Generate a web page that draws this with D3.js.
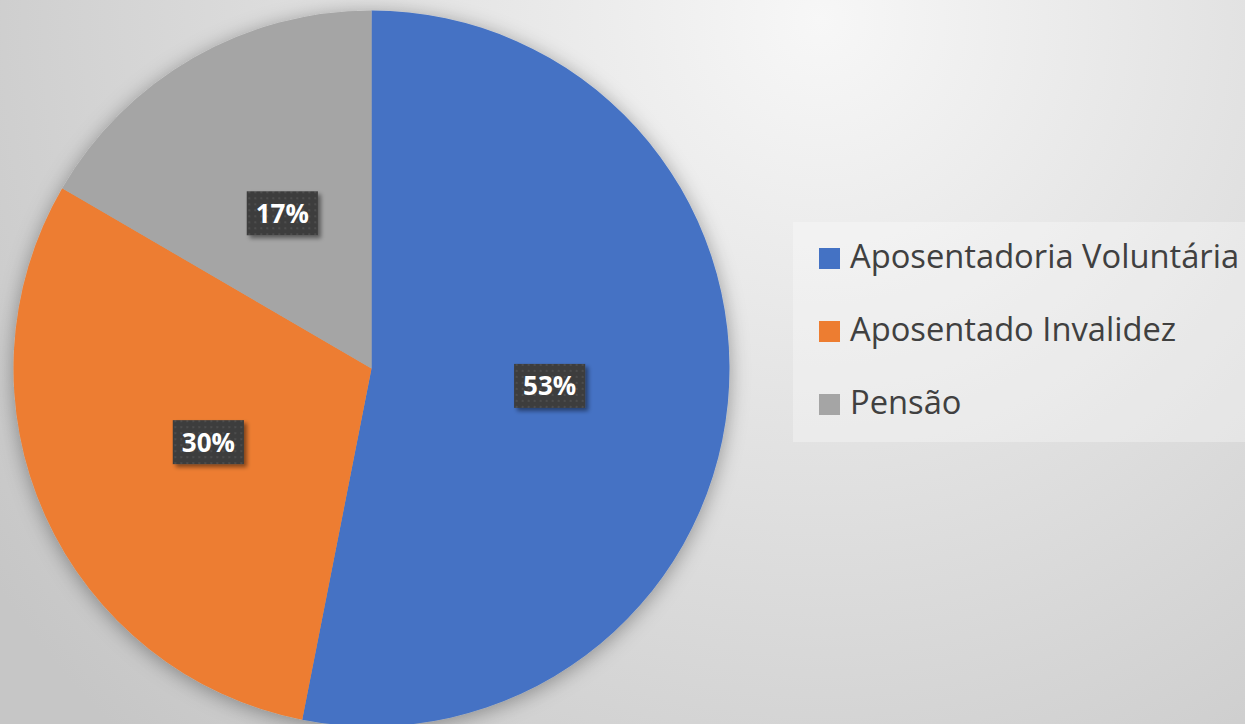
<!DOCTYPE html>
<html>
<head>
<meta charset="utf-8">
<script src="https://cdn.jsdelivr.net/npm/d3@7"></script>
<style>
  body { margin: 0; overflow: hidden; }
  svg { display: block; }
</style>
</head>
<body>
<svg id="chart" width="1245" height="724"></svg>
<script>
// data (slice angles), labels show rounded %
var categories = ["Aposentadoria Voluntária", "Aposentado Invalidez", "Pensão"];
var values = [53.1, 30.3, 16.6];
var colors = ["#4472C4", "#ED7D31", "#A5A5A5"];

var svg = d3.select("#chart"),
    width = +svg.attr("width"),
    height = +svg.attr("height");

var defs = svg.append("defs");

// background gradient, light top right to grey bottom
var bg = defs.append("radialGradient")
    .attr("id", "bg")
    .attr("gradientUnits", "userSpaceOnUse")
    .attr("cx", 820).attr("cy", 20).attr("r", 1000);
bg.append("stop").attr("offset", "0%").attr("stop-color", "#f7f7f7");
bg.append("stop").attr("offset", "100%").attr("stop-color", "#c6c6c6");

var shadow = defs.append("filter").attr("id", "pieShadow")
    .attr("x", "-20%").attr("y", "-20%").attr("width", "140%").attr("height", "140%");
shadow.append("feDropShadow")
    .attr("dx", 0).attr("dy", 3).attr("stdDeviation", 10)
    .attr("flood-color", "#000").attr("flood-opacity", 0.35);

var boxShadow = defs.append("filter").attr("id", "boxShadow")
    .attr("x", "-30%").attr("y", "-30%").attr("width", "160%").attr("height", "160%");
boxShadow.append("feDropShadow")
    .attr("dx", 3).attr("dy", 3).attr("stdDeviation", 2)
    .attr("flood-color", "#000").attr("flood-opacity", 0.45);

// dotted dark fill of the data labels
var pat = defs.append("pattern").attr("id", "dots")
    .attr("patternUnits", "userSpaceOnUse")
    .attr("width", 6).attr("height", 6);
pat.append("rect").attr("width", 6).attr("height", 6).attr("fill", "#3d3d3d");
pat.append("rect").attr("x", 2).attr("y", 2).attr("width", 2).attr("height", 2).attr("fill", "#4d4d4d");

svg.append("rect")
    .attr("width", width).attr("height", height)
    .attr("fill", "url(#bg)");

var cx = 371.5, cy = 368.5, r = 358;

var pie = d3.pie().sort(null).value(function(d) { return d.value; });
var arc = d3.arc().innerRadius(0).outerRadius(r);
var labelArc = d3.arc().innerRadius(r / 2).outerRadius(r / 2);

var data = categories.map(function(c, i) {
    return { name: c, value: values[i], color: colors[i] };
});
var total = d3.sum(values);

var g = svg.append("g")
    .attr("transform", "translate(" + cx + "," + cy + ")");

g.append("g")
    .attr("filter", "url(#pieShadow)")
    .selectAll("path")
    .data(pie(data))
    .enter().append("path")
    .attr("d", arc)
    .attr("fill", function(d) { return d.data.color; });

// data labels
var labels = g.selectAll(".lbl")
    .data(pie(data))
    .enter().append("g")
    .attr("class", "lbl")
    .attr("transform", function(d) {
        var c = labelArc.centroid(d);
        return "translate(" + c[0] + "," + c[1] + ")";
    });

labels.each(function(d) {
    var el = d3.select(this);
    var box = el.append("rect").attr("fill", "url(#dots)").attr("filter", "url(#boxShadow)");
    var t = el.append("text")
        .attr("text-anchor", "middle")
        .attr("dy", "0.36em")
        .attr("fill", "#ffffff")
        .style("font-family", "'Open Sans', 'Noto Sans', sans-serif")
        .style("font-weight", "bold")
        .style("font-size", "26px")
        .text(Math.round(d.data.value / total * 100) + "%");
    var w = t.node().getComputedTextLength() + 18;
    var h = 44;
    box.attr("x", -w / 2).attr("y", -h / 2).attr("width", w).attr("height", h);
});

// legend
var lx = 793, ly = 222;
svg.append("rect")
    .attr("x", lx).attr("y", ly)
    .attr("width", width - lx).attr("height", 220)
    .attr("fill", "#ffffff").attr("fill-opacity", 0.3);

var leg = svg.selectAll(".leg")
    .data(data)
    .enter().append("g")
    .attr("class", "leg")
    .attr("transform", function(d, i) { return "translate(819," + (248 + i * 73) + ")"; });

leg.append("rect")
    .attr("width", 21).attr("height", 21)
    .attr("fill", function(d) { return d.color; });

leg.append("text")
    .attr("x", 31).attr("y", 20)
    .attr("fill", "#404040")
    .style("font-family", "'Open Sans', 'Noto Sans', sans-serif")
    .style("font-size", "32.7px")
    .text(function(d) { return d.name; });
</script>
</body>
</html>
